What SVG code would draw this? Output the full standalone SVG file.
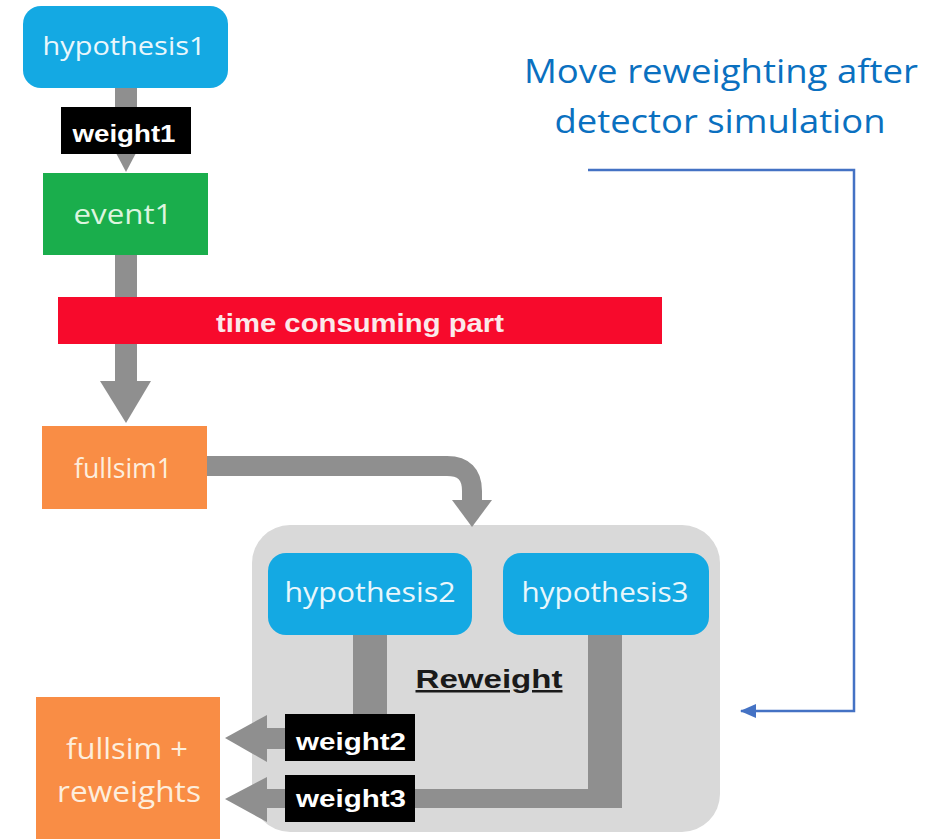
<svg xmlns="http://www.w3.org/2000/svg" width="943" height="839" viewBox="0 0 943 839">
<style>
.lbl{font-family:"Open Sans","Liberation Sans",sans-serif;text-anchor:middle}
.bold{font-family:"Liberation Sans",Arial,sans-serif;font-weight:bold;text-anchor:middle}
.grey{fill:#8f8f8f}
.blk{fill:#000}
</style>
<defs>
<marker id="bluehead" markerWidth="16" markerHeight="14" refX="15" refY="7" orient="auto" markerUnits="userSpaceOnUse">
<path d="M0,0 L16,7 L0,14 Z" fill="#4472c4"/>
</marker>
</defs>
<rect width="943" height="839" fill="#ffffff"/>

<g id="reweight-container">
<rect x="252" y="525" width="468" height="307" rx="38" fill="#d9d9d9"/>
<text x="489" y="688" class="bold" font-size="25" fill="#1a1a1a" text-decoration="underline" textLength="147" lengthAdjust="spacingAndGlyphs">Reweight</text>
</g>

<g id="connectors">
<rect x="115" y="88" width="22" height="52" class="grey"/>
<polygon points="106,134 146,134 126,172" class="grey"/>
<rect x="115" y="255" width="22" height="130" class="grey"/>
<polygon points="100,381 151,381 126,423" class="grey"/>
<path d="M207 466 H447 Q472 466 472 491 V502" fill="none" stroke="#8f8f8f" stroke-width="20"/>
<polygon points="452,500 492,500 472,527" class="grey"/>
<rect x="353" y="633" width="34" height="84" class="grey"/>
<polygon points="588,633 622,633 622,808 410,808 410,789 588,789" class="grey"/>
<rect x="262" y="728" width="26" height="21" class="grey"/>
<polygon points="267,715 267,762 225,738" class="grey"/>
<rect x="262" y="789" width="26" height="19" class="grey"/>
<polygon points="267,777 267,822 225,799" class="grey"/>
<polyline points="588,170 854,170 854,711 741,711" fill="none" stroke="#4472c4" stroke-width="2.5" marker-end="url(#bluehead)"/>
</g>

<g id="hypothesis1">
<rect x="23" y="6" width="205" height="82" rx="18" fill="#14a9e3"/>
<text x="124" y="55" class="lbl" font-size="26" fill="#e9f7fc" textLength="163" lengthAdjust="spacingAndGlyphs">hypothesis1</text>
</g>
<g id="weight1">
<rect x="61" y="107" width="130" height="47" class="blk"/>
<text x="124" y="142" class="bold" font-size="23" fill="#fff" textLength="103" lengthAdjust="spacingAndGlyphs">weight1</text>
</g>
<g id="event1">
<rect x="43" y="173" width="165" height="82" fill="#1aae4c"/>
<text x="123" y="224" class="lbl" font-size="27" fill="#dcf5df" textLength="99" lengthAdjust="spacingAndGlyphs">event1</text>
</g>
<g id="time-consuming">
<rect x="58" y="297" width="604" height="47" fill="#f70a2c"/>
<text x="360" y="332" class="bold" font-size="26" fill="#fbe9ea" textLength="288" lengthAdjust="spacingAndGlyphs">time consuming part</text>
</g>
<g id="fullsim1">
<rect x="42" y="426" width="165" height="83" fill="#f98d45"/>
<text x="123" y="478" class="lbl" font-size="27" fill="#fdeedd" textLength="98" lengthAdjust="spacingAndGlyphs">fullsim1</text>
</g>
<g id="hypothesis2">
<rect x="268" y="553" width="204" height="82" rx="18" fill="#14a9e3"/>
<text x="370" y="602" class="lbl" font-size="27" fill="#e9f7fc" textLength="171" lengthAdjust="spacingAndGlyphs">hypothesis2</text>
</g>
<g id="hypothesis3">
<rect x="503" y="553" width="206" height="82" rx="18" fill="#14a9e3"/>
<text x="605" y="602" class="lbl" font-size="27" fill="#e9f7fc" textLength="167" lengthAdjust="spacingAndGlyphs">hypothesis3</text>
</g>
<g id="weight2">
<rect x="285" y="714" width="130" height="47" class="blk"/>
<text x="351" y="750" class="bold" font-size="24" fill="#fff" textLength="110" lengthAdjust="spacingAndGlyphs">weight2</text>
</g>
<g id="weight3">
<rect x="285" y="775" width="130" height="47" class="blk"/>
<text x="351" y="807" class="bold" font-size="24" fill="#fff" textLength="110" lengthAdjust="spacingAndGlyphs">weight3</text>
</g>
<g id="fullsim-reweights">
<rect x="36" y="697" width="184" height="142" fill="#f98d45"/>
<text x="127" y="759" class="lbl" font-size="29" fill="#fdeedd" textLength="122" lengthAdjust="spacingAndGlyphs">fullsim +</text>
<text x="129" y="802" class="lbl" font-size="29" fill="#fdeedd" textLength="144" lengthAdjust="spacingAndGlyphs">reweights</text>
</g>
<g id="note">
<text x="721" y="83" class="lbl" font-size="33" fill="#0a70c0" textLength="394" lengthAdjust="spacingAndGlyphs">Move reweighting after</text>
<text x="720" y="133" class="lbl" font-size="33" fill="#0a70c0" textLength="331" lengthAdjust="spacingAndGlyphs">detector simulation</text>
</g>
</svg>
